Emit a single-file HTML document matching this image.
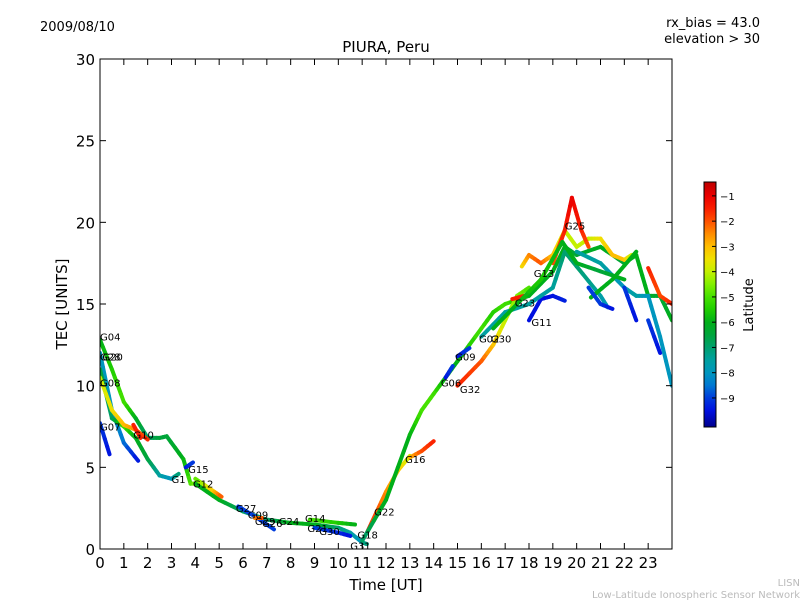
<!DOCTYPE html>
<html><head><meta charset="utf-8"><style>
body{margin:0;background:#fff;width:800px;height:600px;overflow:hidden;font-family:"DejaVu Sans","Liberation Sans",sans-serif}
svg text{font-family:"DejaVu Sans","Liberation Sans",sans-serif}
</style></head><body>
<svg id="chart" width="800" height="600">
<defs>
<linearGradient id="cmap" x1="0" y1="1" x2="0" y2="0"></linearGradient>
<clipPath id="clip"><rect x="100" y="59" width="572" height="490"/></clipPath>
</defs>
<text x="40" y="31" font-size="13">2009/08/10</text>
<text x="760" y="27" font-size="13" text-anchor="end">rx_bias = 43.0</text>
<text x="760" y="43" font-size="13" text-anchor="end">elevation &gt; 30</text>
<text x="386" y="52" font-size="15" text-anchor="middle">PIURA, Peru</text>
<g id="marks" clip-path="url(#clip)"></g>
<g id="labels"></g>
<rect x="100" y="59" width="572" height="490" fill="none" stroke="#000" stroke-width="1"/>
<g id="axes"></g>
<text x="386" y="590" font-size="15" text-anchor="middle">Time [UT]</text>
<text x="67" y="304" font-size="15" text-anchor="middle" transform="rotate(-90 67 304)">TEC [UNITS]</text>
<rect x="704" y="182" width="12" height="245" fill="url(#cmap)" stroke="#000"/>
<g id="cbticks"></g>
<text x="753" y="305" font-size="13" text-anchor="middle" transform="rotate(-90 753 305)">Latitude</text>
<text x="800" y="586" font-size="10" fill="#bbb" text-anchor="end">LISN</text>
<text x="800" y="598" font-size="10" fill="#bbb" text-anchor="end">Low-Latitude Ionospheric Sensor Network</text>
</svg>
<script>
const xTicks=[0,1,2,3,4,5,6,7,8,9,10,11,12,13,14,15,16,17,18,19,20,21,22,23];
const yTicks=[0,5,10,15,20,25,30];
const cbTicks=[-1,-2,-3,-4,-5,-6,-7,-8,-9];
// tracks: [hour, tec, latitude]
const tracks=[
[[0,12.8,-6],[0.5,11,-5.5],[1,9,-5],[1.5,8,-6],[2,6.8,-7],[2.5,6.8,-6.5],[2.8,6.9,-6.5],[3.5,5.5,-6],[3.8,4,-5],[4.3,4,-4],[5,3.2,-3]],
[[0,12,-8],[0.5,8.5,-8],[1,6.5,-8.5],[1.6,5.4,-9.5]],
[[0,11,-6.5],[0.5,8,-7],[1,7.5,-5],[1.5,6.8,-6],[2,5.5,-6.5],[2.5,4.5,-7.5],[3,4.3,-8],[3.3,4.6,-7]],
[[0,10.5,-4],[0.5,8.5,-3.5],[1,7.6,-3],[1.5,7.3,-2.5],[2,6.7,-1.5]],
[[1.4,7.6,-1.5],[1.7,6.8,-1.5]],
[[0,7.7,-9],[0.4,5.8,-9.5]],
[[3.6,5,-9.5],[3.9,5.3,-9]],
[[4,4.3,-5],[4.8,3.5,-3],[5.1,3.2,-2]],
[[4,4,-6],[5,3,-6],[6,2.3,-7],[7,1.8,-7],[8,1.6,-6],[9,1.5,-6],[10,1.3,-7],[10.5,1,-7.5],[11,0.4,-8],[11.2,0.3,-7]],
[[5.8,2.6,-9],[6.5,2,-9],[7.3,1.2,-9]],
[[6.5,1.9,-2.5],[6.8,1.9,-2]],
[[8.8,1.8,-5],[10,1.6,-5.5],[10.7,1.5,-6]],
[[9,1.3,-9],[10,1.0,-9.2],[10.5,0.8,-9.5]],
[[11.2,1,-1.5],[12,3.5,-2.5],[12.5,4.8,-3],[13,5.7,-4]],
[[13,5.6,-3],[13.5,6,-2],[14,6.6,-1.5]],
[[11,0.5,-7],[12,3,-6],[13,7,-6],[13.5,8.5,-5],[14,9.5,-5],[14.5,10.5,-6],[15,11.5,-6],[16,13.5,-5],[16.5,14.5,-5.5],[17,15,-5],[18,15.5,-6],[19,17,-6],[19.5,18.5,-6],[20,18,-6.5],[21,18.5,-6],[22,17.5,-6.5],[22.5,18,-6],[23,15.5,-6],[23.5,15.5,-6.5],[24,14,-6]],
[[14.5,10.5,-9.5],[14.8,11.2,-9]],
[[15,11.8,-9.5],[15.5,12.3,-9]],
[[15,10,-1.5],[16,11.5,-2],[16.5,12.5,-3],[17,14,-4],[17.5,15.5,-4.5],[18,16,-5]],
[[17.3,15.3,-1.5],[17.8,15.5,-1.5]],
[[18,14,-9.5],[18.5,15.3,-9.5],[19,15.5,-9.5],[19.5,15.2,-9.3]],
[[17.7,17.3,-3.5],[18,18,-2.5],[18.5,17.5,-2],[19,18,-3],[19.5,19.5,-4],[20,18.5,-4],[20.5,19,-4],[21,19,-3.5],[21.5,18,-3],[22,17.7,-3],[22.3,18,-4]],
[[19,17.5,-2],[19.5,19.5,-1.5],[19.8,21.5,-1],[20.2,19.5,-1.5],[20.5,18.5,-2]],
[[20,18.2,-7.5],[21,17.5,-7.5],[22,16,-8],[22.5,15.5,-7.5],[23,15.5,-8],[23.5,13,-8],[24,10,-8]],
[[16,13,-7.5],[17,14.5,-7.5],[18,15,-7.5],[19,16,-7.5],[19.5,18.2,-7],[20,17.3,-7],[21,15.5,-7.5],[21.3,14.8,-8]],
[[16.5,13.5,-6],[17.5,15,-6],[18.5,16.5,-5.5],[19.4,18.8,-6],[20,17.5,-6],[21,17,-6.5],[22,16.5,-6]],
[[20.6,15.4,-6],[21.5,16.5,-6],[22.5,18.2,-6]],
[[20.5,16,-9],[21,15,-9],[21.5,14.7,-9.5]],
[[22,16,-9],[22.5,14,-9.5]],
[[23,17.2,-1.5],[23.5,15.5,-2],[24,15,-1.5]],
[[23,14,-9],[23.5,12,-9.5]]
];
const labelNames=["G04","G28","G20","G08","G07","G10","G1","G15","G12","G27","G09","G29","G26","G24","G14","G21","G30","G18","G31","G22","G16","G06","G09","G32","G23","G11","G02","G30","G13","G25"];
const labelPos=[[0,13],[0,11.8],[0.1,11.8],[0,10.2],[0,7.5],[1.4,7],[3,4.3],[3.7,4.9],[3.9,4],[5.7,2.5],[6.2,2.1],[6.5,1.7],[6.8,1.6],[7.5,1.7],[8.6,1.9],[8.7,1.3],[9.2,1.1],[10.8,0.9],[10.5,0.2],[11.5,2.3],[12.8,5.5],[14.3,10.2],[14.9,11.8],[15.1,9.8],[17.4,15.1],[18.1,13.9],[15.9,12.9],[16.4,12.9],[18.2,16.9],[19.5,19.8]];
const X=h=>100+h*572/24, Y=v=>549-v*490/30;
const LMIN=-10.15,LMAX=-0.45;
const cstops=[[-10.15,[0,0,140]],[-9.5,[0,16,224]],[-9,[0,60,220]],[-8.5,[0,120,210]],[-8,[0,150,190]],[-7.5,[0,160,160]],[-7,[0,160,110]],[-6.5,[0,165,60]],[-6,[0,175,25]],[-5.5,[30,205,0]],[-5,[70,225,0]],[-4.5,[130,240,0]],[-4,[195,240,0]],[-3.5,[240,225,0]],[-3,[255,190,0]],[-2.5,[255,140,0]],[-2,[255,80,0]],[-1.5,[250,30,0]],[-1,[235,0,0]],[-0.45,[190,0,0]]];
function cmap(l){l=Math.max(LMIN,Math.min(LMAX,l));
for(let i=0;i<cstops.length-1;i++){const a=cstops[i],b=cstops[i+1];if(l<=b[0]){const t=(l-a[0])/(b[0]-a[0]);return `rgb(${a[1].map((v,j)=>Math.round(v+(b[1][j]-v)*t)).join(',')})`;}}
return 'rgb(190,0,0)';}
const NS="http://www.w3.org/2000/svg";
const grad=document.getElementById('cmap');
cstops.forEach(s=>{const st=document.createElementNS(NS,'stop');st.setAttribute('offset',(s[0]-LMIN)/(LMAX-LMIN));st.setAttribute('stop-color',`rgb(${s[1].join(',')})`);grad.appendChild(st);});
const marks=document.getElementById('marks');
tracks.forEach((tr,ti)=>{
 const g=document.createElementNS(NS,'g');
 
 
 for(let i=0;i<tr.length-1;i++){
  const a=tr[i],b=tr[i+1];
  for(let k=0;k<4;k++){
   const t0=k/4,t1=(k+1)/4,tm=(k+0.5)/4;
   const l=document.createElementNS(NS,'line');
   l.setAttribute('x1',X(a[0]+(b[0]-a[0])*t0));l.setAttribute('y1',Y(a[1]+(b[1]-a[1])*t0));
   l.setAttribute('x2',X(a[0]+(b[0]-a[0])*t1));l.setAttribute('y2',Y(a[1]+(b[1]-a[1])*t1));
   l.setAttribute('stroke',cmap(a[2]+(b[2]-a[2])*tm));l.setAttribute('stroke-width','4');l.setAttribute('stroke-linecap','round');
   
   
   g.appendChild(l);
  }
 }
 marks.appendChild(g);
});
const lab=document.getElementById('labels');
labelNames.forEach((n,i)=>{
 const t=document.createElementNS(NS,'text');
 t.setAttribute('x',X(labelPos[i][0]));t.setAttribute('y',Y(labelPos[i][1])+4);
 t.setAttribute('font-size','10');t.textContent=n;
 
 
 lab.appendChild(t);
});
const ax=document.getElementById('axes');
function add(tag,attrs,txt){const e=document.createElementNS(NS,tag);for(const k in attrs)e.setAttribute(k,attrs[k]);if(txt!==undefined)e.textContent=txt;return e;}
xTicks.forEach(h=>{
 const e=add('line',{x1:X(h),x2:X(h),y1:549,y2:543,stroke:'#000'});
 
 
 ax.appendChild(e);
 const e2=add('line',{x1:X(h),x2:X(h),y1:59,y2:65,stroke:'#000'});
 
 
 ax.appendChild(e2);
 const t=add('text',{x:X(h),y:568,'font-size':15,'text-anchor':'middle'},String(h));
 
 
 ax.appendChild(t);
});
yTicks.forEach(v=>{
 const e=add('line',{x1:100,x2:106,y1:Y(v),y2:Y(v),stroke:'#000'});
 
 
 ax.appendChild(e);
 const e2=add('line',{x1:666,x2:672,y1:Y(v),y2:Y(v),stroke:'#000'});
 
 
 ax.appendChild(e2);
 const t=add('text',{x:95,y:Y(v)+6,'font-size':15,'text-anchor':'end'},String(v));
 
 
 ax.appendChild(t);
});
const cb=document.getElementById('cbticks');
const CY=l=>427-(l-LMIN)*245/(LMAX-LMIN);
cbTicks.forEach(l=>{
 const e=add('line',{x1:712,x2:716,y1:CY(l),y2:CY(l),stroke:'#000'});
 
 
 cb.appendChild(e);
 const t=add('text',{x:720,y:CY(l)+4,'font-size':10},'\u2212'+Math.abs(l));
 
 
 cb.appendChild(t);
});
</script>
</body></html>
